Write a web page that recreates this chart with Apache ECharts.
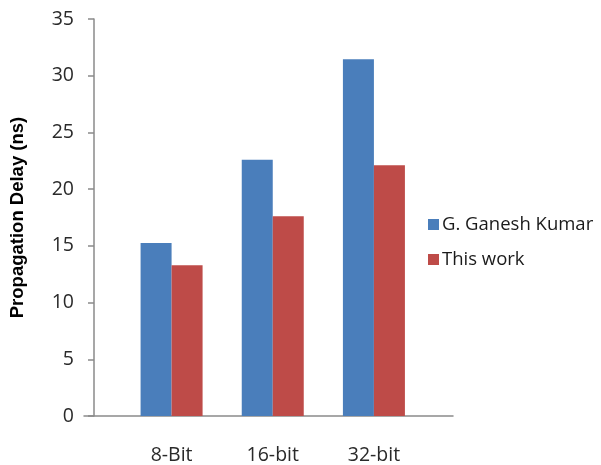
<!DOCTYPE html>
<html>
<head>
<meta charset="utf-8">
<script src="https://cdn.jsdelivr.net/npm/echarts@6/dist/echarts.min.js"></script>
<style>
  html, body { margin: 0; padding: 0; background: #fff; }
  #main { width: 601px; height: 465px; }
</style>
</head>
<body>
<div id="main"></div>
<script>
// data
const categories = ['8-Bit', '16-bit', '32-bit'];
const kumarDelay = [15.25, 22.6, 31.45];
const thisWorkDelay = [13.3, 17.6, 22.1];
const yTicks = { min: 0, max: 35, interval: 5 };

const chart = echarts.init(document.getElementById('main'));

const labelFont = { fontFamily: 'Open Sans', fontSize: 19.5, color: '#2a2a2a' };

const option = {
  animation: false,
  backgroundColor: '#fff',
  grid: [
    // bars
    { left: 117, right: 176.5, top: 19, bottom: 49 },
    // only used to draw the long baseline
    { left: 84, right: 148, top: 19, bottom: 49 }
  ],
  legend: {
    orient: 'vertical',
    left: 423,
    top: 210,
    itemWidth: 11,
    itemHeight: 11,
    itemGap: 16,
    icon: 'rect',
    textStyle: { fontFamily: 'Open Sans', fontSize: 18.5, color: '#1a1a1a', padding: [0, 0, 0, -2] }
  },
  xAxis: [
    {
      type: 'category',
      gridIndex: 0,
      data: categories,
      axisLine: { show: false },
      axisTick: { show: false },
      axisLabel: Object.assign({ margin: 29 }, labelFont)
    },
    {
      type: 'category',
      gridIndex: 1,
      data: [''],
      axisLine: { lineStyle: { color: '#8a8a8a', width: 1.5 } },
      axisTick: { show: false },
      axisLabel: { show: false }
    }
  ],
  yAxis: [
    {
      type: 'value',
      gridIndex: 0,
      min: yTicks.min,
      max: yTicks.max,
      interval: yTicks.interval,
      offset: 27,
      name: 'Propagation Delay (ns)',
      nameLocation: 'middle',
      nameGap: 67,
      nameTextStyle: { fontFamily: 'Liberation Sans', fontWeight: 'bold', fontSize: 18.5, color: '#000' },
      axisLine: { show: true, lineStyle: { color: '#8a8a8a', width: 1.5 } },
      axisTick: { show: true, length: 6, lineStyle: { color: '#8a8a8a', width: 1.5 } },
      splitLine: { show: false },
      axisLabel: Object.assign({ margin: 20 }, labelFont)
    },
    {
      type: 'value',
      gridIndex: 1,
      show: false
    }
  ],
  series: [
    {
      name: 'G. Ganesh Kumar',
      type: 'bar',
      xAxisIndex: 0,
      yAxisIndex: 0,
      data: kumarDelay,
      barWidth: 31,
      barGap: '0%',
      itemStyle: { color: '#4a7ebb' }
    },
    {
      name: 'This work',
      type: 'bar',
      xAxisIndex: 0,
      yAxisIndex: 0,
      data: thisWorkDelay,
      barWidth: 31,
      barGap: '0%',
      itemStyle: { color: '#be4b48' }
    }
  ]
};

chart.setOption(option);
</script>
</body>
</html>
